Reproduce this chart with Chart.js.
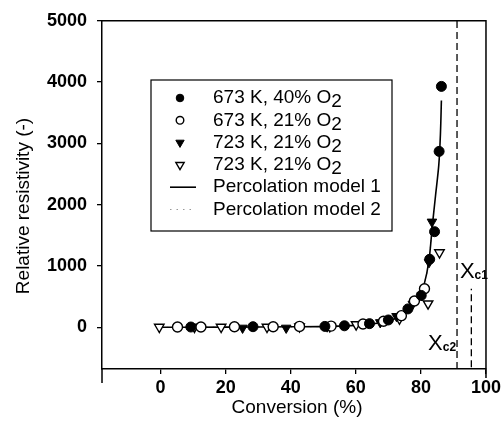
<!DOCTYPE html>
<html>
<head>
<meta charset="utf-8">
<script src="https://cdn.jsdelivr.net/npm/chart.js@4/dist/chart.umd.min.js"></script>
<style>
  html, body { margin: 0; padding: 0; background: #fff; }
  #wrap { width: 504px; height: 427px; }
</style>
</head>
<body>
<div id="wrap"><canvas id="chart" width="504" height="427"></canvas></div>
<script>
const xTicks = [0, 20, 40, 60, 80, 100];
const yTicks = [0, 1000, 2000, 3000, 4000, 5000];

const convA = [9.3, 28.4, 50.5, 56.5, 64.2, 70.0, 76.0, 80.1, 82.7, 84.2, 85.6, 86.3];
const resA  = [5, 10, 15, 25, 60, 120, 300, 520, 1110, 1560, 2870, 3930];

const convB = [5.2, 12.4, 22.7, 34.6, 42.7, 52.4, 62.2, 68.5, 74.0, 78.0, 81.1];
const resB  = [5, 5, 8, 10, 15, 20, 55, 100, 190, 430, 630];

const convC = [25.2, 38.6, 51.2, 67.5, 72.5, 77.5, 80.3, 82.5, 83.4];
const resC  = [-10, -10, 10, 80, 180, 380, 520, 1060, 1720];

const convD = [-0.4, 10.4, 18.6, 32.7, 42.7, 52.0, 60.1, 73.4, 82.2, 85.7];
const resD  = [5, 5, 5, 5, 10, 15, 45, 140, 385, 1220];

const model1Conv = [0, 20, 40, 55, 62, 67, 71, 74, 76, 78, 79.5, 81, 82.5, 83.5, 84.5, 85.5, 86, 86.3];
const model1Res  = [0, 3, 8, 20, 40, 70, 120, 190, 270, 390, 520, 700, 1100, 1650, 2150, 2650, 3150, 3700];

const model2Conv = [0, 20, 40, 55, 62, 67, 71, 74, 76, 78, 79.5, 81, 82.5, 83.5];
const model2Res  = [0, 3, 8, 20, 40, 70, 120, 190, 270, 390, 520, 700, 1100, 1650];

const xc1Line = [91.1, 91.1];
const xc1Span = [-680, 5000];
const xc2Line = [95.5, 95.5];
const xc2Span = [-650, 630];

// label anchors (conversion, resistivity)
const critLabels = ['1', '2'];
const critLabelX = [92.0, 82.2];
const critLabelY = [806, -371];

const pts = (xs, ys) => xs.map((v, i) => ({ x: v, y: ys[i] }));

const frame = {
  id: 'frame',
  afterDraw(chart) {
    const { ctx, chartArea: a, scales: { x, y } } = chart;
    ctx.save();
    ctx.strokeStyle = '#000';
    ctx.lineWidth = 1.5;
    ctx.beginPath();
    ctx.moveTo(a.left, a.bottom);
    ctx.lineTo(a.left, a.bottom + 14);
    ctx.moveTo(a.left, a.top);
    ctx.lineTo(a.right, a.top);
    ctx.lineTo(a.right, a.bottom + 9);
    ctx.stroke();

    // axis titles
    ctx.fillStyle = '#000';
    ctx.font = '19px "Liberation Sans", Arial, sans-serif';
    ctx.textAlign = 'center';
    ctx.textBaseline = 'middle';
    ctx.fillText('Conversion (%)', 297, 408);
    ctx.save();
    ctx.translate(24, 206);
    ctx.rotate(-Math.PI / 2);
    ctx.fillText('Relative resistivity (-)', 0, 0);
    ctx.restore();

    // X_c labels
    ctx.textAlign = 'left';
    ctx.textBaseline = 'alphabetic';
    critLabels.forEach((s, i) => {
      const px = x.getPixelForValue(critLabelX[i]);
      const py = y.getPixelForValue(critLabelY[i]);
      ctx.font = '22px "Liberation Sans", Arial, sans-serif';
      ctx.fillText('X', px, py);
      const w = ctx.measureText('X').width;
      ctx.font = 'bold 12px "Liberation Sans", Arial, sans-serif';
      ctx.fillText('c' + s, px + w, py + 1);
    });

    // legend
    const bx = 151, by = 80, bw = 241, bh = 151;
    ctx.lineWidth = 1.2;
    ctx.strokeRect(bx, by, bw, bh);
    const rows = chart.data.datasets.filter(d => d.inLegend);
    rows.forEach((d, i) => {
      const cy = by + 18 + i * 22.3;
      ctx.save();
      if (d.showLine) {
        ctx.strokeStyle = d.borderColor;
        ctx.lineWidth = d.borderWidth;
        ctx.setLineDash(d.borderDash || []);
        ctx.beginPath();
        ctx.moveTo(170, cy);
        ctx.lineTo(196, cy);
        ctx.stroke();
      } else {
        ctx.fillStyle = d.backgroundColor;
        ctx.strokeStyle = d.borderColor;
        ctx.lineWidth = d.borderWidth;
        Chart.helpers.drawPoint(ctx, {
          pointStyle: d.pointStyle,
          radius: d.legendRadius,
          rotation: d.rotation || 0,
          borderWidth: d.borderWidth
        }, 180, cy);
      }
      ctx.restore();
      ctx.fillStyle = '#000';
      ctx.font = '19px "Liberation Sans", Arial, sans-serif';
      ctx.textBaseline = 'middle';
      const lbl = d.label;
      const base = 213;
      if (/O2$/.test(lbl)) {
        const main = lbl.slice(0, -1);
        ctx.fillText(main, base, cy);
        const w = ctx.measureText(main).width;
        ctx.fillText('2', base + w, cy + 4);
      } else {
        ctx.fillText(lbl, base, cy);
      }
    });
    ctx.restore();
  }
};

new Chart(document.getElementById('chart'), {
  type: 'scatter',
  data: {
    datasets: [
      {
        label: '673 K, 40% O2', inLegend: true, data: pts(convA, resA),
        pointStyle: 'circle', radius: 5, legendRadius: 3.8,
        backgroundColor: '#000', borderColor: '#000', borderWidth: 1
      },
      {
        label: '673 K, 21% O2', inLegend: true, data: pts(convB, resB),
        pointStyle: 'circle', radius: 5, legendRadius: 3.8,
        backgroundColor: '#fff', borderColor: '#000', borderWidth: 1.4
      },
      {
        label: '723 K, 21% O2', inLegend: true, data: pts(convC, resC),
        pointStyle: 'triangle', rotation: 180, radius: 5.5, legendRadius: 4.8,
        backgroundColor: '#000', borderColor: '#000', borderWidth: 1
      },
      {
        label: '723 K, 21% O2', inLegend: true, data: pts(convD, resD),
        pointStyle: 'triangle', rotation: 180, radius: 5.5, legendRadius: 4.8,
        backgroundColor: '#fff', borderColor: '#000', borderWidth: 1.4
      },
      {
        label: 'Percolation model 1', inLegend: true, data: pts(model1Conv, model1Res),
        showLine: true, pointRadius: 0, borderColor: '#000', borderWidth: 1.6, tension: 0.3
      },
      {
        label: 'Percolation model 2', inLegend: true, data: pts(model2Conv, model2Res),
        showLine: true, pointRadius: 0, borderColor: '#999', borderWidth: 1.2,
        borderDash: [1.5, 5], tension: 0.3
      },
      {
        label: 'Xc1', data: pts(xc1Line, xc1Span),
        showLine: true, pointRadius: 0, borderColor: '#000', borderWidth: 1.3, borderDash: [7, 4]
      },
      {
        label: 'Xc2', data: pts(xc2Line, xc2Span),
        showLine: true, pointRadius: 0, borderColor: '#000', borderWidth: 1.3, borderDash: [7, 4]
      }
    ]
  },
  options: {
    responsive: false,
    animation: false,
    layout: { padding: { top: 17, right: 17, left: 0, bottom: 0 } },
    plugins: { legend: { display: false }, tooltip: { enabled: false } },
    scales: {
      x: {
        type: 'linear', min: -18, max: 100,
        afterFit: s => { s.height = 58; },
        afterBuildTicks: s => { s.ticks = xTicks.map(v => ({ value: v })); },
        grid: { drawOnChartArea: false, drawTicks: true, tickLength: 5, color: '#000', lineWidth: 1.3 },
        border: { display: true, color: '#000', width: 1.5 },
        ticks: {
          color: '#000', padding: 3, maxRotation: 0,
          font: { family: '"Liberation Sans", Arial, sans-serif', size: 18, weight: 'bold' },
          callback: v => String(v)
        }
      },
      y: {
        type: 'linear', min: -680, max: 5000,
        afterFit: s => { s.width = 102; },
        afterBuildTicks: s => { s.ticks = yTicks.map(v => ({ value: v })); },
        grid: { drawOnChartArea: false, drawTicks: true, tickLength: 5, color: '#000', lineWidth: 1.3 },
        border: { display: true, color: '#000', width: 1.5 },
        ticks: {
          color: '#000', padding: 10,
          font: { family: '"Liberation Sans", Arial, sans-serif', size: 18, weight: 'bold' },
          callback: v => String(v)
        }
      }
    }
  },
  plugins: [frame]
});
</script>
</body>
</html>
